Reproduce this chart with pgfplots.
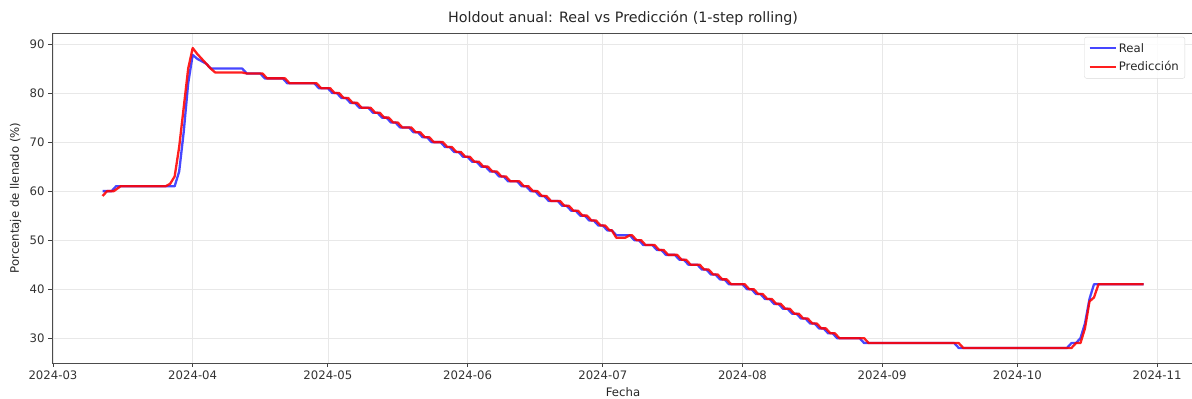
\documentclass[border=0pt]{standalone}
\usepackage{fontspec}
\setmainfont{DejaVu Sans}
\usepackage{pgfplots}
\pgfplotsset{compat=1.18}
\definecolor{realc}{RGB}{0,0,255}
\definecolor{predc}{RGB}{255,0,0}
\begin{document}
\begin{tikzpicture}
\path[use as bounding box] (0bp,0bp) rectangle (1192bp,399bp);
\begin{axis}[
  at={(52bp,36bp)}, anchor=south west,
  width=1142bp, height=330bp, scale only axis,
  xmin=-0.22, xmax=253.2, ymin=24.94, ymax=92.26,
  xtick={0,31,61,92,122,153,184,214,245},
  xticklabels={2024-03,2024-04,2024-05,2024-06,2024-07,2024-08,2024-09,2024-10,2024-11},
  ytick={30,40,50,60,70,80,90},
  /pgf/number format/assume math mode=true,
  tick label style={font=\fontsize{11.7bp}{14bp}\selectfont, text=black!80},
  xtick pos=left, ytick pos=left,
  tick align=outside, major tick length=4bp,
  tick style={black!75, line width=0.8bp},
  axis line style={black!70, line width=0.9bp},
  grid=major,
  major grid style={black!9, line width=0.6bp},
  title={Holdout anual: Real vs Predicción (1-step rolling)},
  title style={font=\fontsize{14.3bp}{17bp}\selectfont, text=black!85, at={(axis description cs:0.5,1)}, anchor=base, yshift=5bp},
  xlabel={Fecha},
  xlabel style={font=\fontsize{11.7bp}{14bp}\selectfont, text=black!85, at={(axis description cs:0.5,-0.1)}, anchor=base},
  ylabel={Porcentaje de llenado (\%)},
  ylabel style={font=\fontsize{11.7bp}{14bp}\selectfont, text=black!85, at={(axis description cs:-0.0289,0.5)}, anchor=base, rotate=0},
  legend style={at={(axis description cs:0.9921,0.988)}, anchor=north east,
    draw=black!15, rounded corners=2bp, fill=white, fill opacity=0.85, text opacity=1,
    font=\fontsize{11.7bp}{14bp}\selectfont, text=black!85,
    inner xsep=4bp, inner ysep=4bp, row sep=4bp},
  legend cell align=left,
  legend image code/.code={\draw[#1] (0bp,0bp) -- (26bp,0bp);},
]
\addplot[realc, opacity=0.72, line width=2.3bp, line join=round] coordinates {
(11,60)(13,60)(14,61)(27,61)(28,64)(29,72)(30,82)(31,87.8)(32,87)(33,86.5)(34,86)(35,85)(42,85)(43,84)(46,84)(47,83)(51,83)(52,82)(58,82)(59,81)(61,81)(62,80)(63,80)(64,79)(65,79)(66,78)(67,78)(68,77)(70,77)(71,76)(72,76)(73,75)(74,75)(75,74)(76,74)(77,73)(79,73)(80,72)(81,72)(82,71)(83,71)(84,70)(86,70)(87,69)(88,69)(89,68)(90,68)(91,67)(92,67)(93,66)(94,66)(95,65)(96,65)(97,64)(98,64)(99,63)(100,63)(101,62)(103,62)(104,61)(105,61)(106,60)(107,60)(108,59)(109,59)(110,58)(112,58)(113,57)(114,57)(115,56)(116,56)(117,55)(118,55)(119,54)(120,54)(121,53)(122,53)(123,52)(124,52)(125,51)(128,51)(129,50)(130,50)(131,49)(133,49)(134,48)(135,48)(136,47)(138,47)(139,46)(140,46)(141,45)(143,45)(144,44)(145,44)(146,43)(147,43)(148,42)(149,42)(150,41)(153,41)(154,40)(155,40)(156,39)(157,39)(158,38)(159,38)(160,37)(161,37)(162,36)(163,36)(164,35)(165,35)(166,34)(167,34)(168,33)(169,33)(170,32)(171,32)(172,31)(173,31)(174,30)(179,30)(180,29)(200,29)(201,28)(225,28)(226,29)(227,29)(228,30)(229,33)(230,38)(231,41)(242,41)
};
\addlegendentry{Real}
\addplot[predc, opacity=0.88, line width=2.3bp, line join=round] coordinates {
(11,59)(12,60)(13.5,60)(15,61)(25,61)(26,61.5)(27,63)(28,69)(29,77)(30,85)(31,89.2)(32,88)(33,87)(34,86)(35,85)(36,84.2)(42,84.2)(43,84)(46.5,84)(47.5,83)(51.5,83)(52.5,82)(58.5,82)(59.5,81)(61.5,81)(62.5,80)(63.5,80)(64.5,79)(65.5,79)(66.5,78)(67.5,78)(68.5,77)(70.5,77)(71.5,76)(72.5,76)(73.5,75)(74.5,75)(75.5,74)(76.5,74)(77.5,73)(79.5,73)(80.5,72)(81.5,72)(82.5,71)(83.5,71)(84.5,70)(86.5,70)(87.5,69)(88.5,69)(89.5,68)(90.5,68)(91.5,67)(92.5,67)(93.5,66)(94.5,66)(95.5,65)(96.5,65)(97.5,64)(98.5,64)(99.5,63)(100.5,63)(101.5,62)(103.5,62)(104.5,61)(105.5,61)(106.5,60)(107.5,60)(108.5,59)(109.5,59)(110.5,58)(112.5,58)(113.5,57)(114.5,57)(115.5,56)(116.5,56)(117.5,55)(118.5,55)(119.5,54)(120.5,54)(121.5,53)(122.5,53)(123.5,52)(124,52)(125,50.5)(127,50.5)(128,51)(128.5,51)(129.5,50)(130.5,50)(131.5,49)(133.5,49)(134.5,48)(135.5,48)(136.5,47)(138.5,47)(139.5,46)(140.5,46)(141.5,45)(143.5,45)(144.5,44)(145.5,44)(146.5,43)(147.5,43)(148.5,42)(149.5,42)(150.5,41)(153.5,41)(154.5,40)(155.5,40)(156.5,39)(157.5,39)(158.5,38)(159.5,38)(160.5,37)(161.5,37)(162.5,36)(163.5,36)(164.5,35)(165.5,35)(166.5,34)(167.5,34)(168.5,33)(169.5,33)(170.5,32)(171.5,32)(172.5,31)(173.5,31)(174.5,30)(180,30)(181,29)(201,29)(202,28)(226,28)(227,29)(228,29)(229,32)(230,37.5)(231,38.3)(232,41)(242,41)
};
\addlegendentry{Predicción}
\end{axis}
\end{tikzpicture}
\end{document}
